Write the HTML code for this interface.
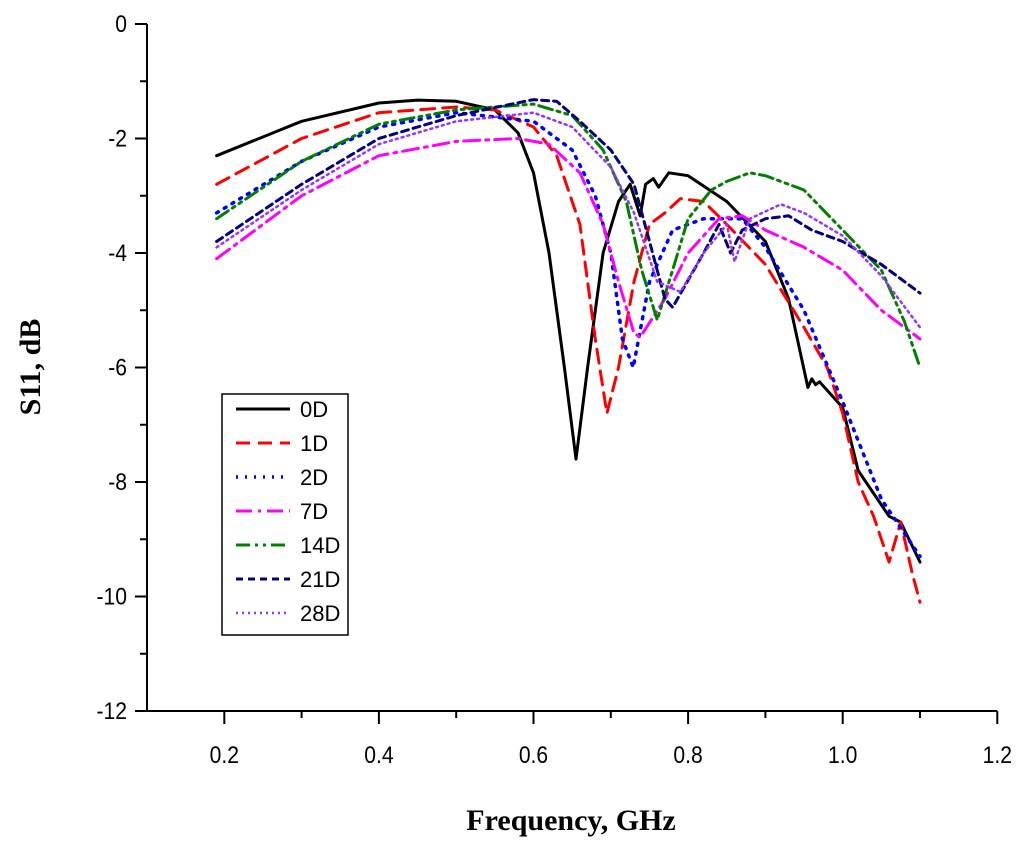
<!DOCTYPE html>
<html><head><meta charset="utf-8"><style>
html,body{margin:0;padding:0;background:#fff;}
svg{display:block;}
</style></head><body>
<svg id="chart" width="1024" height="845" xmlns="http://www.w3.org/2000/svg">
<g id="axes"></g><g id="series"></g><g id="legend"></g>
<text x="571" y="830" text-anchor="middle" font-family="Liberation Serif, serif" font-weight="bold" font-size="30">Frequency, GHz</text>
<text transform="translate(40,367) rotate(-90)" text-anchor="middle" font-family="Liberation Serif, serif" font-weight="bold" font-size="30">S11, dB</text>
</svg>
<script>
const xTicks=[0.2,0.4,0.6,0.8,1.0,1.2];
const xTickLabels=["0.2","0.4","0.6","0.8","1.0","1.2"];
const yTicks=[0,-2,-4,-6,-8,-10,-12];
const yTickLabels=["0","-2","-4","-6","-8","-10","-12"];
const seriesNames=["0D","1D","2D","7D","14D","21D","28D"];
const f0=[0.19,0.3,0.4,0.45,0.5,0.55,0.58,0.6,0.62,0.64,0.655,0.67,0.69,0.71,0.725,0.738,0.745,0.755,0.762,0.775,0.8,0.85,0.9,0.93,0.955,0.96,0.965,0.97,1.0,1.02,1.04,1.06,1.075,1.1];
const v0=[-2.3,-1.7,-1.38,-1.33,-1.35,-1.5,-1.9,-2.6,-4,-6,-7.6,-6,-4,-3.1,-2.8,-3.35,-2.8,-2.7,-2.85,-2.6,-2.65,-3.1,-3.8,-4.8,-6.35,-6.2,-6.3,-6.25,-6.7,-7.8,-8.2,-8.6,-8.7,-9.4];
const f1=[0.19,0.3,0.4,0.5,0.55,0.6,0.63,0.66,0.68,0.695,0.71,0.73,0.75,0.77,0.79,0.82,0.85,0.9,0.95,0.98,1.0,1.02,1.04,1.06,1.075,1.09,1.1];
const v1=[-2.8,-2.0,-1.55,-1.45,-1.5,-1.8,-2.3,-3.5,-5.5,-6.8,-6.0,-4.5,-3.5,-3.3,-3.05,-3.1,-3.5,-4.2,-5.3,-6.0,-6.8,-8.0,-8.6,-9.4,-8.7,-9.6,-10.1];
const f2=[0.19,0.3,0.4,0.5,0.6,0.65,0.68,0.7,0.715,0.729,0.75,0.78,0.82,0.87,0.9,0.95,1.0,1.05,1.1];
const v2=[-3.3,-2.4,-1.8,-1.55,-1.7,-2.2,-3.0,-4.0,-5.5,-6.0,-4.5,-3.6,-3.4,-3.4,-3.9,-5.0,-6.6,-8.3,-9.3];
const f7=[0.19,0.3,0.4,0.5,0.58,0.62,0.66,0.69,0.71,0.73,0.738,0.77,0.8,0.84,0.87,0.9,0.95,1.0,1.05,1.1];
const v7=[-4.1,-3.0,-2.3,-2.05,-2.0,-2.1,-2.6,-3.5,-4.5,-5.4,-5.47,-4.8,-4.0,-3.4,-3.35,-3.6,-3.9,-4.3,-5.0,-5.5];
const f14=[0.19,0.3,0.4,0.5,0.6,0.65,0.69,0.72,0.74,0.76,0.78,0.8,0.83,0.85,0.88,0.9,0.95,1.0,1.05,1.08,1.1];
const v14=[-3.4,-2.4,-1.75,-1.5,-1.4,-1.6,-2.2,-3.1,-4.3,-5.17,-4.3,-3.4,-2.9,-2.75,-2.6,-2.65,-2.9,-3.6,-4.3,-5.2,-6.0];
const f21=[0.19,0.3,0.4,0.5,0.6,0.63,0.66,0.7,0.73,0.75,0.77,0.78,0.82,0.84,0.855,0.87,0.9,0.93,0.96,1.0,1.05,1.1];
const v21=[-3.8,-2.8,-2.0,-1.6,-1.32,-1.35,-1.7,-2.2,-2.8,-3.8,-4.8,-4.95,-4.0,-3.5,-4.0,-3.6,-3.4,-3.35,-3.6,-3.8,-4.2,-4.7];
const f28=[0.19,0.3,0.4,0.5,0.6,0.65,0.7,0.73,0.76,0.79,0.82,0.85,0.86,0.88,0.92,0.95,1.0,1.05,1.1];
const v28=[-3.9,-2.9,-2.1,-1.7,-1.55,-1.8,-2.5,-3.3,-4.5,-4.68,-4.0,-3.5,-4.15,-3.4,-3.15,-3.3,-3.7,-4.4,-5.3];

const X0=147,Y0=711;
const xs=f=>X0+(f-0.1)*773;
const ys=v=>24+(-v)*57.25;
const NS="http://www.w3.org/2000/svg";
function mk(tag,attrs,parent){const e=document.createElementNS(NS,tag);for(const k in attrs)e.setAttribute(k,attrs[k]);parent.appendChild(e);return e;}
const axes=document.getElementById('axes');
let a=mk('line',{x1:X0,y1:ys(0),x2:X0,y2:Y0,stroke:'#000','stroke-width':2},axes);


a=mk('line',{x1:X0,y1:Y0,x2:xs(1.2),y2:Y0,stroke:'#000','stroke-width':2},axes);


for(let i=1;i<=11;i++){const f=0.1+i*0.1;const major=(i%2===1);
 const t=mk('line',{x1:xs(f),y1:Y0,x2:xs(f),y2:Y0+(major?13:7),stroke:'#000','stroke-width':2},axes);
 
 }
xTicks.forEach((f,i)=>{const t=mk('text',{x:xs(f),y:Y0+52,'text-anchor':'middle','font-family':'Liberation Sans, sans-serif','font-size':24,transform:'translate('+xs(f)+',0) scale(0.88,1) translate('+(-xs(f))+',0)'},axes);t.textContent=xTickLabels[i];
 
 });
for(let v=0;v>=-12;v--){const major=(v%2===0);
 const t=mk('line',{x1:X0,y1:ys(v),x2:X0-(major?12:7),y2:ys(v),stroke:'#000','stroke-width':2},axes);
 
 }
yTicks.forEach((v,i)=>{const x=X0-20;const t=mk('text',{x:x,y:ys(v)+8,'text-anchor':'end','font-family':'Liberation Sans, sans-serif','font-size':24,transform:'translate('+x+',0) scale(0.88,1) translate('+(-x)+',0)'},axes);t.textContent=yTickLabels[i];
 
 });
const styles=[
 {c:'#000',d:'',w:3},
 {c:'#ff0000',d:'14 8',w:3},
 {c:'#0000ff',d:'2 7',w:3.5},
 {c:'#ff00ff',d:'16 6 3 6',w:3},
 {c:'#008000',d:'14 5 3 5 3 5',w:3},
 {c:'#000080',d:'7 5',w:3},
 {c:'#9933ff',d:'2 4',w:2.5}];
const data=[[f0,v0],[f1,v1],[f2,v2],[f7,v7],[f14,v14],[f21,v21],[f28,v28]];
const sg=document.getElementById('series');
data.forEach((d,i)=>{const pts=d[0].map((f,j)=>xs(f).toFixed(1)+','+ys(d[1][j]).toFixed(1)).join(' ');
 const p=mk('polyline',{points:pts,fill:'none',stroke:styles[i].c,'stroke-width':styles[i].w,'stroke-dasharray':styles[i].d,'stroke-linejoin':'round','stroke-linecap':'round'},sg);
 
 });
const lg=document.getElementById('legend');
const box=mk('rect',{x:222,y:394,width:126,height:241,fill:'#fff',stroke:'#000','stroke-width':1.5},lg);


seriesNames.forEach((n,i)=>{const y=409+i*34;
 const l=mk('line',{x1:236,y1:y,x2:290,y2:y,stroke:styles[i].c,'stroke-width':styles[i].w,'stroke-dasharray':styles[i].d},lg);
 
 
 const t=mk('text',{x:300,y:y+8,'font-family':'Liberation Sans, sans-serif','font-size':22},lg);t.textContent=n;
 
 });
</script>
</body></html>
